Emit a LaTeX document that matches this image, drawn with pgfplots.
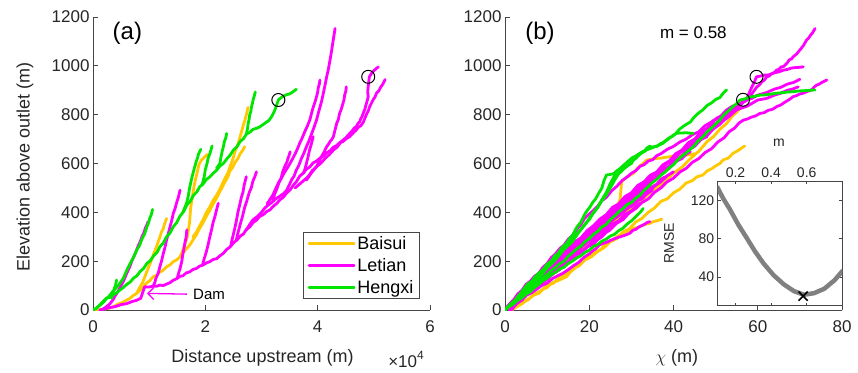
\documentclass[border=0pt]{standalone}
\usepackage{fontspec}
\setmainfont{Liberation Sans}
\usepackage{pgfplots}
\pgfplotsset{compat=1.18}
\usetikzlibrary{arrows.meta}
\definecolor{cY}{RGB}{255,200,0}
\definecolor{cM}{RGB}{255,0,255}
\definecolor{cG}{RGB}{0,230,0}
\definecolor{axc}{RGB}{70,70,70}
\pgfplotsset{
 mainax/.style={
  scale only axis, width=337pt, height=293pt,
  axis x line*=bottom, axis y line*=left,
  ymin=0, ymax=1200, ytick={0,200,...,1200},
  tick align=inside, major tick length=5pt,
  clip mode=individual,
  axis line style={axc, line width=0.8pt},
  every tick/.style={axc, line width=0.8pt},
  tick label style={font=\fontsize{17}{20}\selectfont, text=black!85},
  xticklabel style={yshift=-7pt},
  /pgf/number format/assume math mode=true,
  /pgf/number format/1000 sep={},
  label style={font=\fontsize{18}{20}\selectfont, text=black!85},
  every axis plot/.append style={line width=2.8pt, line join=round, line cap=round},
 },
}
\begin{document}
\begin{tikzpicture}
\path[use as bounding box] (0pt,0pt) rectangle (858pt,372pt);
% ---------------- panel (a)
\begin{axis}[mainax, at={(93pt,62pt)}, anchor=south west,
  xmin=0, xmax=6, xtick={0,2,4,6},
  xlabel={Distance upstream (m)}, ylabel={Elevation above outlet (m)},
  xlabel style={at={(axis description cs:0.503,-0.164)}, anchor=center},
  ylabel style={at={(axis description cs:-0.202,0.488)}, anchor=center},
  legend style={at={(axis description cs:0.970,0.0375)}, anchor=south east, draw=axc, line width=0.8pt,
    font=\fontsize{18}{20}\selectfont, inner xsep=4pt, inner ysep=2pt, row sep=3.5pt},
  legend cell align=left,
  legend image code/.code={\draw[#1, line width=2.8pt] (0pt,0pt) -- (45pt,0pt);},
]
\addlegendimage{cY}\addlegendentry{Baisui}
\addlegendimage{cM}\addlegendentry{Letian}
\addlegendimage{cG}\addlegendentry{Hengxi}
% Baisui
\addplot[cY, forget plot] coordinates {(0.05,0) (0.18,3) (0.30,8) (0.38,15) (0.45,25) (0.52,30) (0.60,41) (0.66,48) (0.72,60) (0.78,68) (0.84,82) (0.90,94) (0.95,110) (1.01,120) (1.07,136) (1.13,142) (1.19,155) (1.25,163) (1.31,177) (1.37,185) (1.43,198) (1.49,205) (1.55,218) (1.60,232) (1.66,250) (1.72,265) (1.78,287) (1.84,308) (1.90,335) (1.96,358) (2.02,385) (2.08,408) (2.14,435) (2.20,458) (2.26,486) (2.30,502) (2.35,525) (2.40,545) (2.44,570) (2.49,585) (2.53,605) (2.58,620) (2.62,640) (2.66,652) (2.70,669)};
\addplot[cY, forget plot] coordinates {(1.78,300) (1.84,318) (1.90,345) (1.96,370) (2.02,400) (2.08,422) (2.14,450) (2.20,470) (2.26,495) (2.30,515) (2.35,540) (2.40,560) (2.44,587) (2.49,618) (2.53,650) (2.58,678) (2.62,710) (2.65,735) (2.68,760) (2.71,782) (2.73,800) (2.75,818) (2.76,830)};
\addplot[cY, forget plot] coordinates {(0.78,70) (0.83,92) (0.88,110) (0.93,140) (0.98,170) (1.03,198) (1.08,230) (1.12,252) (1.16,280) (1.19,298) (1.22,320) (1.25,332) (1.27,350) (1.29,362) (1.31,375)};
\addplot[cY, forget plot] coordinates {(1.55,220) (1.59,238) (1.62,260) (1.65,278) (1.68,300) (1.70,330) (1.72,360) (1.73,392) (1.74,420) (1.76,450) (1.78,480) (1.80,508) (1.83,540) (1.86,568) (1.88,590) (1.90,602) (1.93,614) (1.97,622) (2.00,630) (2.04,637)};
% Letian
\addplot[cM, forget plot] coordinates {(0.12,0) (0.2,4) (0.3,10) (0.4,14) (0.5,22) (0.6,26) (0.7,35) (0.78,40) (0.85,48) (0.87,62) (0.89,75) (0.92,95) (1.0,94) (1.07,98) (1.13,97) (1.19,102) (1.25,100) (1.31,106) (1.37,112) (1.43,122) (1.49,128) (1.55,138) (1.60,140) (1.66,152) (1.72,156) (1.78,166) (1.84,170) (1.90,180) (1.96,184) (2.02,193) (2.08,198) (2.14,207) (2.20,210) (2.26,222) (2.32,232) (2.38,248) (2.44,258) (2.50,275) (2.56,286) (2.62,302) (2.68,312) (2.73,330) (2.79,340) (2.85,358) (2.91,368) (2.97,384) (3.03,390) (3.09,403) (3.15,410) (3.21,425) (3.27,436) (3.33,452) (3.39,462) (3.45,480) (3.51,492) (3.57,512) (3.62,525) (3.68,548) (3.74,560) (3.80,577) (3.86,586) (3.92,603) (3.98,610) (4.04,622) (4.10,630) (4.16,644) (4.22,652) (4.28,667) (4.34,674) (4.39,685) (4.45,690) (4.51,702) (4.57,710) (4.63,725) (4.68,735) (4.72,748) (4.77,755) (4.81,768) (4.84,785) (4.87,802) (4.90,815) (4.93,835) (4.96,848) (4.99,862) (5.02,872) (5.05,889) (5.09,898) (5.12,912) (5.16,925) (5.20,944)};
\addplot[cM, forget plot] coordinates {(0.15,0) (0.22,10) (0.30,25) (0.35,40) (0.40,60) (0.45,78) (0.50,100) (0.55,122) (0.60,150) (0.65,175) (0.70,205) (0.75,230) (0.80,260) (0.84,280) (0.88,305) (0.91,318) (0.93,335) (0.96,348) (0.98,362)};
\addplot[cM, forget plot] coordinates {(1.07,96) (1.10,112) (1.12,130) (1.16,150) (1.19,177) (1.22,200) (1.25,230) (1.28,255) (1.31,287) (1.34,312) (1.37,340) (1.40,365) (1.43,396) (1.46,415) (1.49,440) (1.52,462) (1.55,491)};
\addplot[cM, forget plot] coordinates {(1.50,130) (1.52,148) (1.55,170) (1.58,198) (1.60,230) (1.62,252) (1.64,280) (1.66,300) (1.67,328)};
\addplot[cM, forget plot] coordinates {(1.95,185) (1.98,210) (2.02,240) (2.05,268) (2.08,300) (2.11,328) (2.14,360) (2.17,382) (2.20,410) (2.23,437)};
\addplot[cM, forget plot] coordinates {(2.45,260) (2.48,292) (2.52,330) (2.55,362) (2.58,400) (2.61,428) (2.64,460) (2.67,482) (2.69,510) (2.71,528) (2.73,546)};
\addplot[cM, forget plot] coordinates {(2.55,285) (2.58,315) (2.62,350) (2.66,382) (2.70,420) (2.74,448) (2.78,480) (2.82,502) (2.85,530) (2.88,545) (2.91,566)};
\addplot[cM, forget plot] coordinates {(2.73,328) (2.79,350) (2.85,370) (2.92,382) (3.00,400) (3.06,418) (3.12,430) (3.18,440) (3.25,455) (3.30,462) (3.35,470) (3.40,478) (3.45,491) (3.50,515) (3.54,535) (3.58,548) (3.62,573) (3.66,590) (3.71,620) (3.75,640) (3.80,669) (3.84,690) (3.89,720) (3.93,745) (3.98,778) (4.01,805) (4.04,830) (4.07,855) (4.10,887) (4.13,920) (4.16,955) (4.19,985) (4.22,1024) (4.24,1050) (4.26,1080) (4.28,1110) (4.31,1153)};
\addplot[cM, forget plot] coordinates {(3.10,435) (3.20,470) (3.30,520) (3.35,538) (3.40,560) (3.45,578) (3.51,601) (3.55,618) (3.60,640) (3.64,660) (3.68,683) (3.72,702) (3.77,730) (3.81,750) (3.86,778) (3.89,805) (3.92,830) (3.95,850) (3.98,874) (4.00,892) (4.01,910) (4.03,925) (4.04,942)};
\addplot[cM, forget plot] coordinates {(3.60,500) (3.70,520) (3.80,540) (3.85,552) (3.90,570) (3.94,578) (3.98,587) (4.02,605) (4.07,630) (4.11,645) (4.16,669) (4.19,678) (4.22,690) (4.25,698) (4.28,710) (4.31,738) (4.34,765) (4.37,782) (4.39,805) (4.42,822) (4.45,846) (4.47,862) (4.48,880) (4.50,895) (4.51,914)};
\addplot[cM, forget plot] coordinates {(3.20,450) (3.24,478) (3.28,500) (3.31,522) (3.35,540) (3.38,568) (3.42,590) (3.45,604) (3.47,620) (3.49,632) (3.51,648)};
\addplot[cM, forget plot] coordinates {(3.80,532) (3.89,562) (3.98,587) (4.05,600) (4.13,620) (4.20,635) (4.28,655) (4.35,668) (4.42,690) (4.50,705) (4.57,723) (4.61,732) (4.65,745) (4.69,752) (4.72,765) (4.75,772) (4.77,785) (4.79,792) (4.81,805) (4.84,822) (4.86,840) (4.88,855) (4.90,874) (4.89,895) (4.90,915) (4.91,935) (4.92,955) (4.96,970) (5.00,980) (5.04,988) (5.08,996)};
\addplot[cM, forget plot] coordinates {(3.75,560) (3.78,582) (3.80,600) (3.83,628) (3.85,650) (3.89,682) (3.92,710)};
% Hengxi
\addplot[cG, forget plot] coordinates {(0,0) (0.06,8) (0.12,20) (0.18,30) (0.24,48) (0.30,52) (0.36,62) (0.42,70) (0.48,82) (0.54,92) (0.60,105) (0.66,114) (0.72,130) (0.78,140) (0.84,158) (0.90,170) (0.96,191) (1.02,202) (1.08,222) (1.14,236) (1.19,259) (1.25,274) (1.31,300) (1.37,315) (1.43,341) (1.49,358) (1.55,385) (1.61,402) (1.67,430) (1.73,445) (1.79,470) (1.85,484) (1.90,505) (1.96,516) (2.02,535) (2.08,545) (2.14,560) (2.20,572) (2.26,590) (2.32,600) (2.38,618) (2.44,634) (2.50,655) (2.56,668) (2.62,690) (2.68,702) (2.73,720) (2.79,728) (2.85,740) (2.91,744) (2.97,750) (3.03,760) (3.08,768) (3.13,776) (3.18,792) (3.21,805) (3.24,820) (3.27,840) (3.30,860) (3.34,868) (3.38,875) (3.45,882) (3.50,885) (3.55,892) (3.62,904)};
\addplot[cG, forget plot] coordinates {(2.73,720) (2.75,742) (2.76,760) (2.78,782) (2.79,800) (2.81,812) (2.82,830) (2.84,848) (2.85,860) (2.87,875) (2.89,893)};
\addplot[cG, forget plot] coordinates {(2.20,580) (2.26,601) (2.28,628) (2.30,650) (2.32,668) (2.34,690) (2.36,702) (2.38,723)};
\addplot[cG, forget plot] coordinates {(1.94,510) (1.98,545) (2.00,575) (2.03,600) (2.05,622) (2.08,640) (2.10,655) (2.12,672)};
\addplot[cG, forget plot] coordinates {(1.60,400) (1.67,440) (1.70,472) (1.72,500) (1.75,532) (1.78,560) (1.81,585) (1.84,610) (1.86,622) (1.88,640) (1.92,658)};
\addplot[cG, forget plot] coordinates {(0.05,5) (0.12,20) (0.20,40) (0.28,55) (0.35,75) (0.45,100) (0.54,130) (0.60,162) (0.66,190) (0.72,215) (0.78,246) (0.83,265) (0.87,290) (0.92,312) (0.96,341) (0.99,358) (1.01,375) (1.04,392) (1.06,412)};
\addplot[cG, forget plot] coordinates {(0.33,48) (0.35,68) (0.37,80) (0.39,95) (0.40,100) (0.42,123)};
\addplot[only marks, mark=o, mark size=6.5pt, black, line width=1pt, forget plot] coordinates {(3.30,860) (4.90,955)};
\draw[cM, line width=1.3pt, -{Straight Barb[length=6pt,width=12pt]}] (axis cs:1.67,65) -- (axis cs:0.96,68);
\node[anchor=west, font=\fontsize{15}{15}\selectfont, inner sep=0pt] at (axis cs:1.78,65) {Dam};
\node[font=\fontsize{17}{17}\selectfont, text=black!85] at (rel axis cs:0.929,-0.168) {×10\raisebox{0.45em}{\fontsize{12}{12}\selectfont 4}};
\node[font=\fontsize{24}{24}\selectfont] at (rel axis cs:0.102,0.944) {(a)};
\end{axis}
% ---------------- panel (b)
\begin{axis}[mainax, at={(505pt,62pt)}, anchor=south west,
  xmin=0, xmax=80, xtick={0,20,...,80},
  xlabel={$\chi$ (m)},
  xlabel style={at={(axis description cs:0.510,-0.164)}, anchor=center},
]
% Baisui
\addplot[cY] coordinates {(1.5,0) (2.5,12) (4,30) (5.5,42) (7,65) (8.5,78) (10,100) (11.5,110) (13,135) (14.5,148) (16,170) (17.5,180) (19,205) (20.5,218) (22,240) (23.5,255) (25,280) (26.5,292) (28,320) (29.5,332) (31,360) (32.5,375) (34,400) (35.5,418) (37,445) (38.5,455) (40,480) (41.5,495) (43,520) (44.5,530) (45.5,545) (47,553) (48,570) (49,578) (50,590) (51,600) (51.8,615) (53,622) (54,640) (55.5,655) (56.9,672)};
\addplot[cY] coordinates {(1,0) (3,22) (5,60) (7.5,90) (10,130) (12.5,162) (15,205) (17.5,238) (20,280) (22.5,310) (25,350) (27.5,382) (30,420) (32.5,450) (35,490) (37.5,520) (40,560) (42,585) (44,620) (46,650) (48,690) (49.5,710) (51,740) (52.5,762) (54,795) (55,810) (56,830)};
\addplot[cY] coordinates {(1.5,0) (4,25) (5.5,45) (6.7,60) (8,68) (9,85) (10,92) (11,110) (12.8,122) (14.6,136) (15.5,155) (16.5,170) (17.5,185) (18.6,205) (19.5,215) (20.5,228) (21.5,235) (22.6,246) (23.5,262) (24.5,275) (25.5,285) (26.5,300) (27.5,308) (28.5,320) (29.5,325) (30.5,335) (31.5,338) (32.5,345) (33.5,352) (34.4,355) (35.2,362) (36,365) (37.2,372)};
\addplot[cY] coordinates {(1,0) (2.5,28) (4,50) (5.5,70) (7,95) (8.5,115) (10,140) (11.5,162) (13,190) (14.5,210) (16,235) (17.5,255) (19,280) (20.5,302) (22,330) (23.2,352) (24.5,380) (25.5,398) (26.5,420) (27.3,451) (27.5,490) (27.7,526) (28.3,535) (29,545) (30.5,560) (31.2,575) (32,590) (32.8,600) (33.6,614) (35.5,620) (37,622) (38,625) (40,630) (42.5,632) (45,640)};
% Letian
\addplot[cM] coordinates {(1.5,0) (2.7,25) (4,40) (5.5,68) (7,85) (8.5,110) (10,125) (11.5,150) (13,165) (14.5,192) (16,210) (17.5,235) (19,250) (20.5,275) (22,290) (23.5,315) (25,330) (26.5,355) (28,370) (29.5,398) (31,415) (32.5,440) (34,455) (35.5,482) (37,500) (38.5,525) (40,540) (41.5,565) (43,580) (44.5,605) (46,620) (47.5,645) (49,660) (50.5,688) (52,705) (53.2,730) (54.5,745) (55.5,765) (56.6,778) (57.5,782) (58.5,790) (59.5,795) (60.5,805) (61.5,808) (62.5,818) (63.5,822) (64.5,833) (65.5,840) (66.5,852) (67.5,862) (68.4,874) (69.2,878) (70,885) (70.8,888) (71.6,894) (72.3,898) (73,905) (73.5,915) (74,921) (74.6,925) (75.2,932) (76.4,942)};
\addplot[cM] coordinates {(0,0) (1.5,25) (3,45) (4.5,75) (6,95) (7.5,122) (9,140) (10.5,168) (12,185) (13.5,212) (15,230) (16.5,258) (18,275) (19.5,302) (21,320) (22.5,348) (24,365) (25.5,392) (27,410) (28.5,435) (30,450) (31.5,478) (33,495) (34.5,522) (36,540) (37.5,568) (39,585) (40.5,612) (42,630) (43.5,655) (45,670) (46.5,698) (48,715) (49.5,742) (51,760) (52.5,790) (54,810) (55.3,835) (56.5,850) (57.3,858) (58.2,874) (59,895) (59.8,914) (60.4,922) (61,935) (61.6,942) (62.1,955) (62.7,958) (63.3,968) (63.9,972) (64.5,983) (65,985) (65.5,995) (66.2,998) (66.9,1010) (67.5,1025) (68,1028) (68.4,1037) (69.2,1048) (70,1065) (70.8,1082) (71.6,1106) (72,1112) (72.5,1125) (73,1135) (73.6,1153)};
\addplot[cM] coordinates {(0,0) (1.5,30) (3,50) (4.5,80) (6,100) (7.5,130) (9,150) (10.5,178) (12,195) (13.5,225) (15,245) (16.5,272) (18,290) (19.5,320) (21,340) (22.5,368) (24,385) (25.5,415) (27,430) (28.5,458) (30,470) (31.5,500) (33,520) (34.5,545) (36,560) (37.5,590) (39,605) (40.5,635) (42,650) (43.5,675) (45,690) (46.5,718) (48,730) (49.5,760) (51,775) (52.5,802) (54,815) (55,832) (56,840) (56.8,858) (57.5,870) (58,890) (58.5,910) (59.1,930) (59.7,955) (60.6,958) (61.5,962) (62.3,962) (63,965) (64,972) (65,975) (66,982) (67,985) (68,991) (69,993) (70,994) (70.8,996)};
\addplot[cM] coordinates {(1,0) (2,18) (3,30) (4,48) (5,60) (6.3,70) (7.5,85) (8.7,100) (10,110) (11.2,128) (12.5,140) (13.7,150) (15,165) (16.3,182) (17.5,195) (18.7,215) (20,230) (20.8,242) (21.5,250) (22.4,266) (23.3,273) (24.2,278) (25,285) (26,292) (27,298) (28.3,305) (29.6,314) (30.3,326) (31,330) (32,342) (33,350) (33.7,358) (34.4,362)};
\addplot[cM] coordinates {(0,0) (1.5,28) (3,45) (4.5,72) (6,90) (7.5,115) (9,130) (10.5,155) (12,170) (13.5,198) (15,215) (16.5,240) (18,255) (19.5,282) (21,300) (22.5,325) (24,340) (25.5,368) (27,385) (28.5,410) (30,425) (31.2,445) (32.5,455) (33.8,478) (35,491)};
\addplot[cM] coordinates {(0,0) (1.5,25) (3,40) (4.5,65) (6,80) (7.5,102) (9,115) (10.5,140) (12,155) (13.5,180) (15,195) (16.5,220) (18,235) (19.5,258) (21,270) (22,288) (23,300) (24,318) (25,328)};
\addplot[cM] coordinates {(0,0) (1.5,30) (3,50) (4.5,78) (6,95) (7.5,120) (9,135) (10.5,160) (12,175) (13.5,200) (15,215) (16.5,240) (18,255) (19.5,278) (21,290) (22.5,315) (24,330) (25.5,352) (27,365) (28.5,392) (30,405) (31,425) (32,437)};
\addplot[cM] coordinates {(0,0) (1.5,32) (3,55) (4.5,85) (6,105) (7.5,132) (9,150) (10.5,178) (12,195) (13.5,220) (15,235) (16.5,262) (18,275) (19.5,302) (21,320) (22.5,348) (24,365) (25.5,390) (27,405) (28.5,428) (30,440) (31.5,465) (33,475) (34.5,500) (36,515) (37,535) (38,546)};
\addplot[cM] coordinates {(1,0) (2.5,28) (4,45) (5.5,72) (7,90) (8.5,118) (10,135) (11.5,162) (13,180) (14.5,208) (16,225) (17.5,252) (19,270) (20.5,298) (22,315) (23.5,342) (25,360) (26.5,385) (28,400) (29.5,425) (31,440) (32.5,465) (34,480) (35.5,508) (37,525) (38.5,550) (40,566)};
\addplot[cM] coordinates {(0,0) (1.5,32) (3,55) (4.5,85) (6,105) (7.5,135) (9,155) (10.5,182) (12,200) (13.5,230) (15,250) (16.5,278) (18,295) (19.5,325) (21,345) (22.5,372) (24,390) (25.5,420) (27,435) (28.5,465) (30,480) (31.5,510) (33,525) (34.5,552) (36,565) (37.5,595) (39,610) (40.5,640) (42,655) (43.5,685) (45,700) (46.5,728) (48,745) (49.5,775) (51,790) (52.5,818) (54,835) (55.5,842) (57,860) (58.5,866) (60,880) (62,890) (64,905) (65.5,912) (67,925) (68.5,932) (70,945)};
\addplot[cM] coordinates {(0,0) (1.5,28) (3,45) (4.5,75) (6,95) (7.5,122) (9,140) (10.5,170) (12,190) (13.5,215) (15,235) (16.5,265) (18,285) (19.5,312) (21,330) (22.5,358) (24,375) (25.5,402) (27,420) (28.5,445) (30,460) (31.5,490) (33,505) (34.5,532) (36,545) (37.5,575) (39,590) (40.5,615) (42,630) (43.5,660) (45,675) (46.5,705) (48,720) (49.5,748) (51,765) (53,790) (55,820) (57.5,835) (60,860) (62,866) (64,880) (65.5,888) (67,900) (68.3,905) (69.6,914)};
\addplot[cM] coordinates {(0,0) (1.5,30) (3,50) (4.5,80) (6,100) (7.5,130) (9,150) (10.5,178) (12,195) (13.5,225) (15,240) (16.5,270) (18,285) (19.5,315) (21,330) (22.5,360) (24,375) (25.5,405) (27,420) (28.5,448) (30,460) (31.5,490) (33,500) (34.5,530) (36,540) (37.5,568) (39,580) (40.5,608) (42,620) (43,638) (44,648)};
\addplot[cM] coordinates {(0,0) (2,38) (4,65) (6,100) (8,125) (10,162) (12,190) (14,225) (16,250) (18,285) (20,310) (22,348) (24,375) (26,410) (28,435) (30,472) (32,500) (34,535) (36,560) (38,595) (40,620) (42,650) (44,670) (46,695) (48,710)};
\addplot[cM] coordinates {(0,0) (1,22) (2,40) (3,65) (4,80) (5,105) (6,118) (7,138) (8,150) (9,175) (10,190) (11,215) (12,230) (13,252) (14,265) (15,290) (16,305) (17,330) (18,350) (19,378) (20.2,396) (21,408) (22,425) (23,448) (24,460) (25.3,488) (26.5,506) (27.8,530) (29,545) (30,560) (31,570) (32,588) (33,595) (34,610) (35,615) (36,632) (37,640) (38.5,658) (40,670) (41.5,688) (43,700) (44.5,718) (46,730) (47.5,755) (49,770) (50.5,788) (52,800) (53.5,818) (55,830)};
% Hengxi
\addplot[cG] coordinates {(0,0) (1,15) (2,25) (3,42) (4,55) (5,72) (6,85) (7,102) (8,115) (9,132) (10,145) (11,162) (12,175) (13,190) (14,200) (15,220) (16,235) (17,250) (18,262) (19,280) (20,292) (21,310) (22,322) (23,340) (24,350) (25,370) (26,385) (27,402) (28,415) (29,432) (30,440) (31,458) (32,470) (33,490) (34,505) (35,522) (36,535) (37,552) (38,565) (39,582) (40,595) (41,615) (42,630) (43.3,648) (44.7,669) (45.8,692) (47,710) (48,730) (49,745) (50,762) (51,778) (52,800) (53,815) (54,832) (55,845) (55.8,860) (57,865) (58,872) (59.2,875) (60.5,880) (61.8,881) (63,884) (64.5,888) (66,890) (67.2,893) (68.4,894) (69.7,897) (71,898) (72.3,900) (73.6,901)};
\addplot[cG] coordinates {(0,0) (1,18) (2,30) (3,55) (4,75) (5.3,105) (6.7,123) (7.8,148) (9,165) (10,188) (11,200) (11.8,222) (12.5,230) (13.5,255) (14.6,273) (15.3,292) (16,305) (17,338) (18,360) (19,395) (20.2,423) (20.8,440) (21.5,455) (22.3,480) (23,500) (23.5,530) (24.1,553) (25,555) (26,560) (26.5,570) (27,575) (28.3,595) (29.6,615) (30.3,625) (31,630) (32.3,645) (33.6,656) (34.3,660) (35,665) (36.2,672) (37.5,683) (38.2,695) (39,705) (39.8,712) (40.5,722) (41.4,740) (42.3,752) (43.2,762) (44,770) (44.8,788) (45.5,800) (46.2,810) (47,820) (48,838) (49,848) (50,862) (51,870) (51.8,888) (52.6,902)};
\addplot[cG] coordinates {(0,0) (1.5,25) (3,40) (4.5,72) (6,95) (7.5,128) (9,150) (10.5,185) (12,210) (13.5,242) (15,265) (16.5,302) (18,330) (19,352) (20,370) (21,398) (22,420) (23,448) (24,470) (24.8,495) (25.5,515) (26,532) (26.5,545) (27.2,565) (28,575) (29,590) (30,600) (30.6,618) (31.2,630) (32,640) (33,648) (33.5,655) (34,660) (35,668) (36,670) (37,682) (38,690) (39.5,710) (40.7,724) (42,725) (43,726) (44,724) (44.7,724)};
\addplot[cG] coordinates {(0,0) (1,15) (2,25) (3,40) (4,50) (5,65) (6,75) (7,92) (8,105) (9,120) (10,130) (11,145) (12,155) (13,168) (14,175) (15,190) (16,200) (17,213) (18,222) (19,236) (20,245) (21,260) (22,268) (23,282) (24,290) (25,303) (26,310) (27,325) (28,335) (29,352) (30,365) (30.8,378) (31.5,390) (32.2,402) (32.8,416)};
\addplot[cG] coordinates {(0,0) (1.5,25) (3,45) (4,62) (5,80) (6,102) (6.5,115) (7,135) (8,138)};
\addplot[cG] coordinates {(0,0) (2,35) (4,60) (6,100) (8,130) (10,172) (12,205) (14,248) (16,280) (17.5,318) (19,350) (20.5,388) (22,420) (23,452) (24,480) (25,518) (26,550) (26.8,558) (27.5,565) (28.2,580) (29,590) (30,608) (31,620) (32,638) (33,650) (33.8,665) (34.5,672)};
\addplot[only marks, mark=o, mark size=6.5pt, black, line width=1pt] coordinates {(56.5,861) (59.7,955)};
\node[font=\fontsize{24}{24}\selectfont] at (rel axis cs:0.104,0.944) {(b)};
\node[font=\fontsize{17}{17}\selectfont] at (rel axis cs:0.559,0.945) {m = 0.58};
\end{axis}
% ---------------- inset
\begin{axis}[at={(717.7pt,66.3pt)}, anchor=south west, scale only axis, width=124.6pt, height=124.7pt,
  xmin=0.1, xmax=0.8, ymin=10, ymax=140,
  xtick={0.2,0.4,0.6}, ytick={40,80,120},
  xticklabel pos=right, xtick pos=both, ytick pos=both,
  tick align=inside, major tick length=3pt,
  axis line style={axc, line width=0.8pt},
  every tick/.style={axc, line width=0.8pt},
  axis background/.style={fill=white},
  tick label style={font=\fontsize{14}{16}\selectfont, text=black!85},
  /pgf/number format/assume math mode=true,
  xlabel={m}, ylabel={RMSE},
  label style={font=\fontsize{14}{16}\selectfont, text=black!85},
  xlabel style={at={(axis description cs:0.492,1.305)}, anchor=center},
  ylabel style={at={(axis description cs:-0.391,0.499)}, anchor=center},
]
\addplot[gray, line width=4.5pt, line cap=round] coordinates {(0.098,133.5) (0.13,122) (0.168,110.6) (0.215,94.7) (0.263,80.6) (0.31,66.5) (0.357,54.2) (0.414,41.8) (0.471,32.3) (0.528,25.2) (0.585,21.4) (0.642,23.1) (0.699,27.7) (0.756,36.5) (0.80,46)};
\addplot[only marks, mark=x, mark size=6.5pt, black, line width=1.6pt] coordinates {(0.58,20)};
\end{axis}
\end{tikzpicture}
\end{document}
